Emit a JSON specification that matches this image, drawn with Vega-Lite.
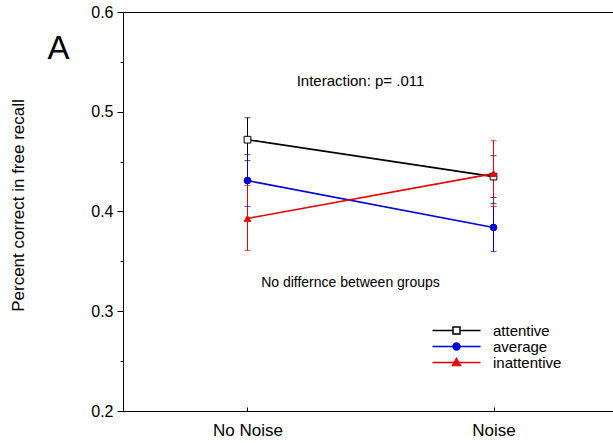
{
  "$schema": "https://vega.github.io/schema/vega-lite/v6.json",
  "width": 495,
  "height": 399,
  "autosize": "none",
  "padding": {"left": 123, "top": 12, "right": 0, "bottom": 32},
  "background": "white",
  "config": {
    "font": "Liberation Sans",
    "view": {"stroke": "black", "strokeWidth": 1},
    "axis": {"grid": false, "domainColor": "black", "tickColor": "black", "labelColor": "black", "titleColor": "black", "domainWidth": 1, "tickWidth": 1}
  },
  "data": {
    "values": [
      {"condition": "No Noise", "group": "attentive", "mean": 0.472, "lo": 0.451, "hi": 0.494},
      {"condition": "Noise", "group": "attentive", "mean": 0.435, "lo": 0.414, "hi": 0.456},
      {"condition": "No Noise", "group": "average", "mean": 0.431, "lo": 0.405, "hi": 0.457},
      {"condition": "Noise", "group": "average", "mean": 0.384, "lo": 0.360, "hi": 0.408},
      {"condition": "No Noise", "group": "inattentive", "mean": 0.393, "lo": 0.361, "hi": 0.426},
      {"condition": "Noise", "group": "inattentive", "mean": 0.438, "lo": 0.405, "hi": 0.471}
    ]
  },
  "resolve": {"legend": {"color": "independent", "fill": "independent", "shape": "independent"}},
  "layer": [
    {
      "mark": {"type": "rule", "strokeWidth": 1},
      "encoding": {
        "x": {"field": "condition", "type": "nominal", "sort": ["No Noise", "Noise"], "scale": {"type": "point", "padding": 0.506},
          "axis": {"title": null, "labelAngle": 0, "labelFontSize": 17, "tickSize": -4, "labelPadding": 15, "domain": true}},
        "y": {"field": "lo", "type": "quantitative", "scale": {"domain": [0.2, 0.6], "nice": false, "zero": false},
          "axis": {"title": "Percent correct in free recall", "titleFontSize": 17, "titleFontWeight": "normal", "titleAngle": -90, "titleAlign": "center", "titleBaseline": "alphabetic", "titleX": -100, "titleY": 193,
            "values": [0.2, 0.25, 0.3, 0.35, 0.4, 0.45, 0.5, 0.55, 0.6],
            "labelExpr": "abs(datum.value*10 - round(datum.value*10)) < 0.001 ? format(datum.value, '.1f') : ''",
            "tickSize": {"condition": {"test": "abs(datum.value*10 - round(datum.value*10)) < 0.001", "value": 6}, "value": 3},
            "labelFontSize": 16, "labelPadding": 4}},
        "y2": {"field": "hi"},
        "color": {"field": "group", "type": "nominal", "scale": {"domain": ["attentive", "average", "inattentive"], "range": ["#000000", "#0000dd", "#ee0000"]},
          "legend": {"title": null, "orient": "none", "legendX": 326, "legendY": 311, "symbolSize": 100, "symbolStrokeWidth": 1.5, "labelFontSize": 10, "labelOffset": 29, "rowPadding": -5, "padding": 0, "labelColor": "black",
            "encode": {
              "labels": {"update": {"fontSize": {"value": 15}}},
              "symbols": {"update": {
                "shape": {"signal": "datum.value === 'attentive' ? 'M-4.8,0H-0.7M0.7,0H4.8M-0.7,-0.7H0.7V0.7H-0.7Z' : datum.value === 'average' ? 'M-4.8,0H4.8M0.7,0A0.7,0.7 0 1,1 -0.7,0A0.7,0.7 0 1,1 0.7,0Z' : 'M-4.8,0H4.8M0,-0.8L0.8,0.6L-0.8,0.6Z'"},
                "stroke": {"signal": "datum.value === 'attentive' ? '#000000' : datum.value === 'average' ? '#0000dd' : '#ee0000'"},
                "fill": {"signal": "datum.value === 'attentive' ? '#ffffff' : datum.value === 'average' ? '#0000dd' : '#ee0000'"},
                "strokeWidth": {"value": 1.5},
                "opacity": {"value": 1}
              }}
            }}}
      }
    },
    {
      "mark": {"type": "tick", "thickness": 1, "size": 6},
      "encoding": {
        "x": {"field": "condition", "type": "nominal", "sort": ["No Noise", "Noise"]},
        "y": {"field": "lo", "type": "quantitative"},
        "color": {"field": "group", "type": "nominal", "legend": null}
      }
    },
    {
      "mark": {"type": "tick", "thickness": 1, "size": 6},
      "encoding": {
        "x": {"field": "condition", "type": "nominal", "sort": ["No Noise", "Noise"]},
        "y": {"field": "hi", "type": "quantitative"},
        "color": {"field": "group", "type": "nominal", "legend": null}
      }
    },
    {
      "mark": {"type": "line", "strokeWidth": 1.6},
      "encoding": {
        "x": {"field": "condition", "type": "nominal", "sort": ["No Noise", "Noise"]},
        "y": {"field": "mean", "type": "quantitative"},
        "color": {"field": "group", "type": "nominal", "legend": null}
      }
    },
    {
      "mark": {"type": "point", "opacity": 1, "strokeWidth": 1, "size": 45},
      "encoding": {
        "x": {"field": "condition", "type": "nominal", "sort": ["No Noise", "Noise"]},
        "y": {"field": "mean", "type": "quantitative"},
        "color": {"field": "group", "type": "nominal", "legend": null},
        "fill": {"field": "group", "type": "nominal", "scale": {"domain": ["attentive", "average", "inattentive"], "range": ["#ffffff", "#0000dd", "#ee0000"]}, "legend": null},
        "shape": {"field": "group", "type": "nominal", "scale": {"domain": ["attentive", "average", "inattentive"], "range": ["square", "circle", "triangle-up"]}, "legend": null}
      }
    },
    {
      "data": {"values": [{"note": "Interaction: p= .011"}]},
      "mark": {"type": "text", "fontSize": 15, "baseline": "alphabetic", "align": "center", "dx": -10, "color": "black"},
      "encoding": {"y": {"datum": 0.526}, "text": {"field": "note"}}
    },
    {
      "data": {"values": [{"note": "No differnce between groups"}]},
      "mark": {"type": "text", "fontSize": 14, "baseline": "alphabetic", "align": "center", "dx": -20, "color": "black"},
      "encoding": {"y": {"datum": 0.3245}, "text": {"field": "note"}}
    },
    {
      "data": {"values": [{"note": "A"}]},
      "mark": {"type": "text", "fontSize": 33, "baseline": "alphabetic", "align": "center", "dx": -312, "color": "black"},
      "encoding": {"y": {"datum": 0.553}, "text": {"field": "note"}}
    }
  ]
}
